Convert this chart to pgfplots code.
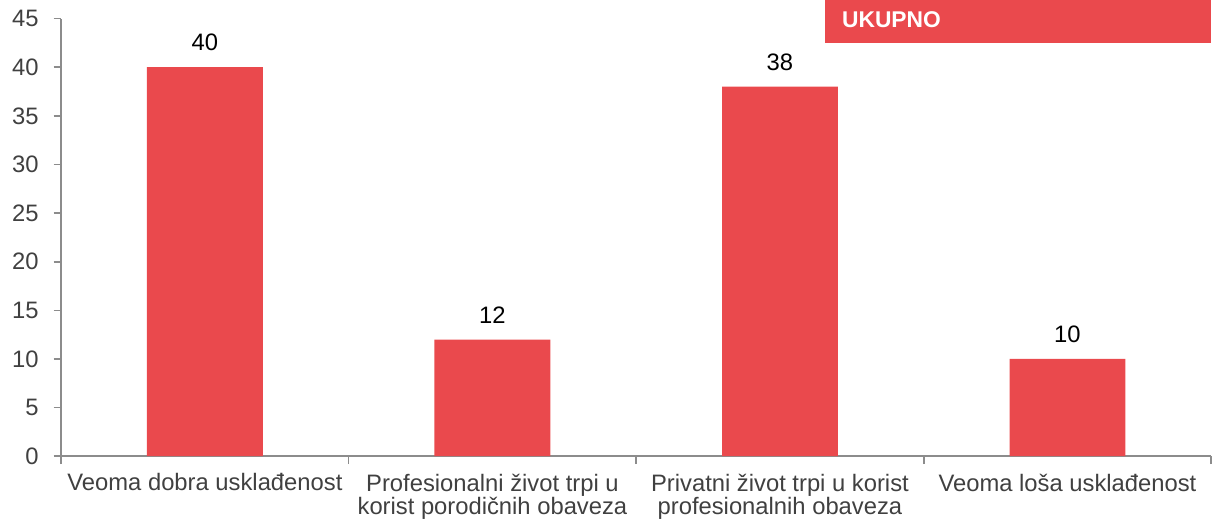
\documentclass[border=0pt]{standalone}
\usepackage{fontspec}
\setmainfont{Liberation Sans}
\usepackage{pgfplots}
\pgfplotsset{compat=1.18}

\definecolor{barred}{HTML}{EA494D}
\definecolor{txtgray}{HTML}{404040}
\definecolor{axgray}{HTML}{8C8C8C}

\begin{document}
\begin{tikzpicture}
\begin{axis}[
    scale only axis,
    width=575.5pt,
    height=219pt,
    ybar,
    bar width=58pt,
    xmin=-0.5, xmax=3.5,
    ymin=0, ymax=45,
    ytick={0,5,...,45},
    xtick={0,1,2,3},
    xticklabels={Veoma dobra usklađenost,
                 Profesionalni život trpi u\\korist porodičnih obaveza,
                 Privatni život trpi u korist\\profesionalnih obaveza,
                 Veoma loša usklađenost},
    minor xtick={-0.5,0.5,1.5,2.5,3.5},
    axis x line*=bottom,
    axis y line*=left,
    axis line style={-, draw=axgray, line width=0.8pt},
    tick align=outside,
    major tick length=3.75pt,
    minor tick length=4pt,
    xtick style={draw=none},
    ytick style={draw=axgray, line width=0.8pt},
    minor x tick style={draw=axgray, line width=0.8pt},
    tick label style={font=\fontsize{11.9}{11.7}\selectfont, text=txtgray},
    x tick label style={align=center, yshift=-1.5pt},
    y tick label style={xshift=-4pt, text width=16pt, align=right},
    /pgf/number format/assume math mode=true,
    nodes near coords,
    every node near coord/.append style={font=\fontsize{11.9}{14}\selectfont, text=black, yshift=4.5pt},
    legend image code/.code={},
    legend style={at={(rel axis cs:1,1)}, anchor=north east, yshift=9.5pt,
        draw=none, fill=barred, inner sep=0pt,
        nodes={inner sep=0pt, minimum height=21.5pt, text=white,
               font=\fontsize{11.4}{12}\selectfont\bfseries}},
]
\addplot[fill=barred, draw=none] coordinates {(0,40) (1,12) (2,38) (3,10)};
\addlegendentry{\makebox[193pt][l]{\hspace*{8.5pt}UKUPNO}}
\end{axis}
\end{tikzpicture}
\end{document}
